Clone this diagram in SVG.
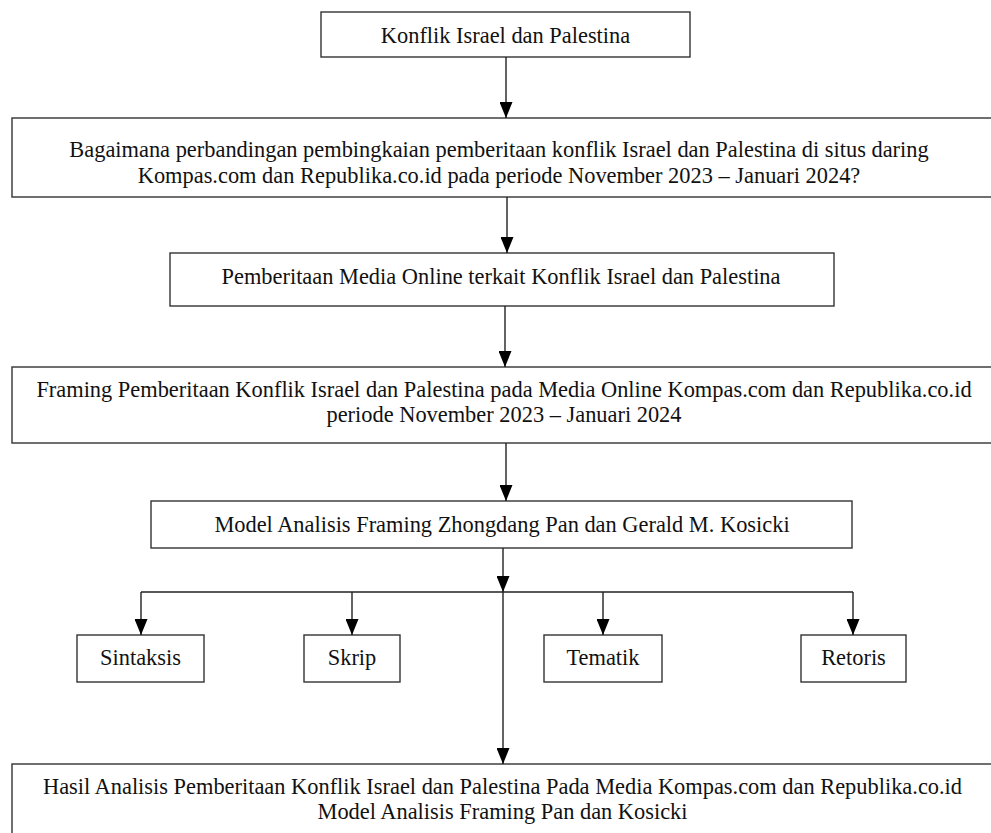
<svg xmlns="http://www.w3.org/2000/svg" width="991" height="833" viewBox="0 0 991 833">
<defs>
<style>
.box{fill:#fff;stroke:#333;stroke-width:1.4}
.t{font-family:"Liberation Serif","Times New Roman",serif;font-size:22.4px;fill:#111;text-anchor:middle}
.c{fill:none;stroke:#222;stroke-width:1.4}
</style>
<marker id="ah" viewBox="0 0 16 13" refX="16" refY="6.5" markerWidth="16" markerHeight="13" markerUnits="userSpaceOnUse" orient="auto">
<path d="M0,0 L16,6.5 L0,13 Z" fill="#000"/>
</marker>
</defs>
<rect width="991" height="833" fill="#fff"/>
<g id="n1"><rect class="box" x="321" y="12" width="369" height="45"/><text class="t" x="505.5" y="42.5">Konflik Israel dan Palestina</text></g>
<g id="n2"><rect class="box" x="12" y="118" width="985" height="79"/><text class="t" x="499" y="157">Bagaimana perbandingan pembingkaian pemberitaan konflik Israel dan Palestina di situs daring</text><text class="t" x="499" y="183">Kompas.com dan Republika.co.id pada periode November 2023 – Januari 2024?</text></g>
<g id="n3"><rect class="box" x="170" y="253" width="664" height="53"/><text class="t" x="501" y="284">Pemberitaan Media Online terkait Konflik Israel dan Palestina</text></g>
<g id="n4"><rect class="box" x="12" y="367" width="985" height="76"/><text class="t" x="504" y="397">Framing Pemberitaan Konflik Israel dan Palestina pada Media Online Kompas.com dan Republika.co.id</text><text class="t" x="504" y="422">periode November 2023 – Januari 2024</text></g>
<g id="n5"><rect class="box" x="151" y="501" width="701" height="47"/><text class="t" x="502" y="532">Model Analisis Framing Zhongdang Pan dan Gerald M. Kosicki</text></g>
<g id="n6"><rect class="box" x="77" y="635" width="127" height="47"/><text class="t" x="140.5" y="665">Sintaksis</text></g>
<g id="n7"><rect class="box" x="304" y="635" width="96" height="47"/><text class="t" x="352" y="665">Skrip</text></g>
<g id="n8"><rect class="box" x="544" y="635" width="118" height="47"/><text class="t" x="603" y="665">Tematik</text></g>
<g id="n9"><rect class="box" x="801" y="635" width="105" height="47"/><text class="t" x="853.5" y="665">Retoris</text></g>
<g id="n10"><rect class="box" x="12" y="764" width="985" height="80"/><text class="t" x="502.5" y="794">Hasil Analisis Pemberitaan Konflik Israel dan Palestina Pada Media Kompas.com dan Republika.co.id</text><text class="t" x="502.5" y="819">Model Analisis Framing Pan dan Kosicki</text></g>
<g id="connectors">
<path class="c" d="M506,57 V118" marker-end="url(#ah)"/>
<path class="c" d="M507,197 V253" marker-end="url(#ah)"/>
<path class="c" d="M505,306 V367" marker-end="url(#ah)"/>
<path class="c" d="M506,443 V501" marker-end="url(#ah)"/>
<path class="c" d="M503,548 V592" marker-end="url(#ah)"/>
<path class="c" d="M141,592 H853"/>
<path class="c" d="M141,592 V635" marker-end="url(#ah)"/>
<path class="c" d="M352,592 V635" marker-end="url(#ah)"/>
<path class="c" d="M603,592 V635" marker-end="url(#ah)"/>
<path class="c" d="M853,592 V635" marker-end="url(#ah)"/>
<path class="c" d="M503,592 V764" marker-end="url(#ah)"/>
</g>
</svg>
